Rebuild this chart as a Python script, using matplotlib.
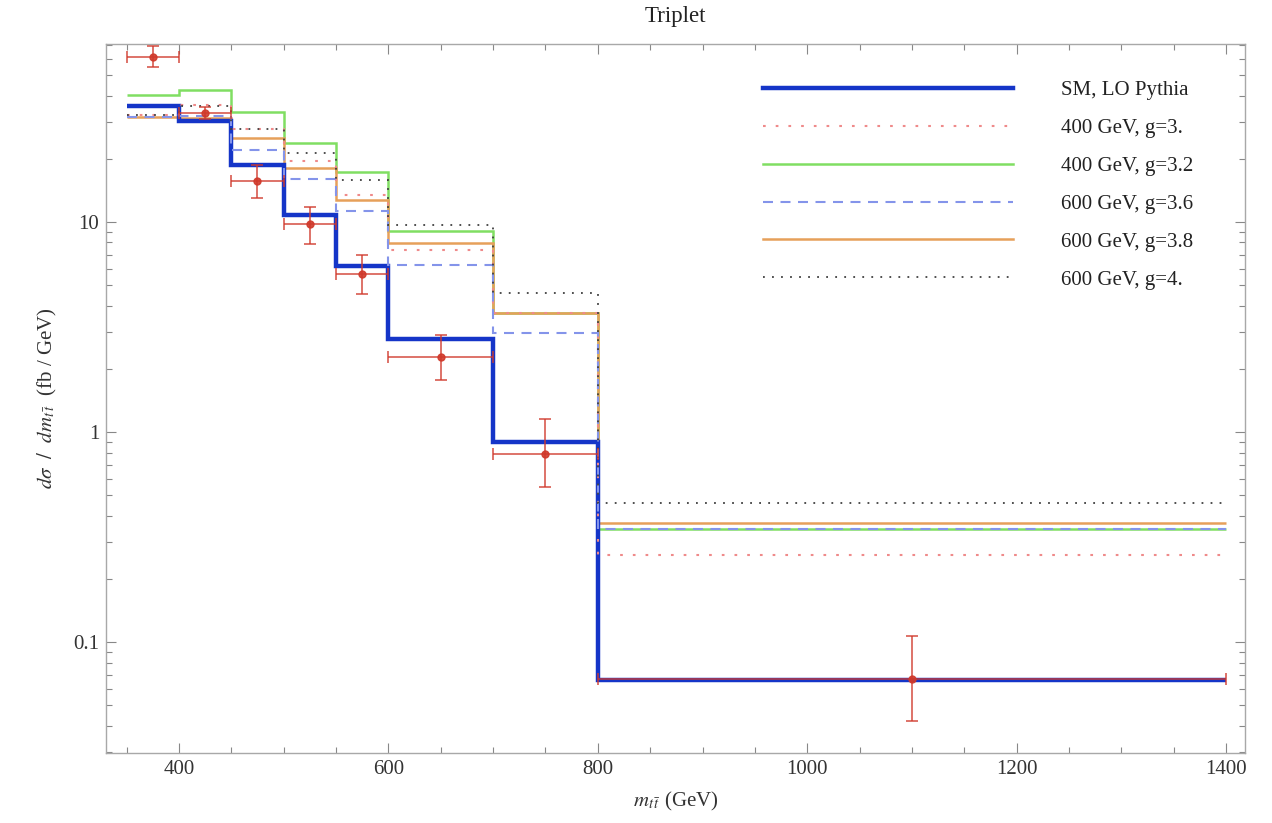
import matplotlib
matplotlib.use("Agg")
import matplotlib.pyplot as plt
from matplotlib.lines import Line2D
from matplotlib.ticker import FixedLocator, FixedFormatter, LogLocator, NullFormatter, MultipleLocator

# ---------------- data ----------------
bin_edges = [350, 400, 450, 500, 550, 600, 700, 800, 1400]

sm_lo_pythia = [35.8, 30.2, 18.7, 10.8, 6.2, 2.78, 0.90, 0.066]
m400_g30 = [32.5, 36.0, 27.7, 19.6, 13.4, 7.36, 3.70, 0.26]
m400_g32 = [40.2, 42.7, 33.5, 23.9, 17.4, 9.05, 3.70, 0.345]
m600_g36 = [31.8, 32.0, 22.0, 16.0, 11.3, 6.25, 2.97, 0.345]
m600_g38 = [31.6, 31.4, 25.0, 18.0, 12.7, 7.95, 3.69, 0.37]
m600_g40 = [32.5, 35.5, 27.7, 21.3, 15.9, 9.70, 4.60, 0.46]

data_x = [375, 425, 475, 525, 575, 650, 750, 1100]
data_xerr = [25, 25, 25, 25, 25, 50, 50, 300]
data_y = [61.2, 33.0, 15.6, 9.77, 5.63, 2.28, 0.79, 0.067]
data_ylow = [54.5, 31.0, 13.0, 7.9, 4.54, 1.77, 0.55, 0.042]
data_yhigh = [69.0, 35.2, 18.7, 11.8, 6.96, 2.90, 1.15, 0.107]

series_labels = ["SM, LO Pythia", "400 GeV, g=3.", "400 GeV, g=3.2",
                 "600 GeV, g=3.6", "600 GeV, g=3.8", "600 GeV, g=4."]

xticks = [400, 600, 800, 1000, 1200, 1400]
yticks = [0.1, 1, 10]
ytick_labels = ["0.1", "1", "10"]

# ---------------- style ----------------
plt.rcParams['font.family'] = ['Liberation Serif', 'DejaVu Serif']
plt.rcParams['mathtext.fontset'] = 'stix'

fig = plt.figure(figsize=(12.72, 8.23), dpi=100)
ax = fig.add_axes([106/1272, 1-753/823, (1245-106)/1272, (753-44)/823])

styles = [
    dict(color='#1535c8', lw=3.2, ls='-'),
    dict(color='#ef8a8a', lw=1.5, ls=(0, (1.3, 4.8))),
    dict(color='#80de62', lw=1.8, ls='-'),
    dict(color='#8494ea', lw=1.5, ls=(0, (4.8, 3.6))),
    dict(color='#e6a05a', lw=1.8, ls='-'),
    dict(color='#404040', lw=1.3, ls=(0, (1.0, 4.0))),
]
series = [sm_lo_pythia, m400_g30, m400_g32, m600_g36, m600_g38, m600_g40]
zorders = [3, 4, 2.5, 4.2, 2.6, 4.4]

for vals, st, z in zip(series, styles, zorders):
    ax.stairs(vals, bin_edges, baseline=None, color=st['color'],
              linewidth=st['lw'], linestyle=st['ls'], zorder=z)

yerr = [[y - lo for y, lo in zip(data_y, data_ylow)],
        [hi - y for y, hi in zip(data_y, data_yhigh)]]
ax.errorbar(data_x, data_y, xerr=data_xerr, yerr=yerr, fmt='o',
            color='#d0392b', ms=5, elinewidth=1.1, capsize=4, capthick=1.1,
            alpha=0.9, zorder=6)

ax.set_yscale('log')
ax.set_xlim(330.4, 1418)
ax.set_ylim(0.0297, 70.4)

ax.xaxis.set_major_locator(FixedLocator(xticks))
ax.xaxis.set_minor_locator(MultipleLocator(50))
ax.yaxis.set_major_locator(FixedLocator(yticks))
ax.yaxis.set_major_formatter(FixedFormatter(ytick_labels))
ax.yaxis.set_minor_locator(LogLocator(base=10, subs=range(2, 10)))
ax.yaxis.set_minor_formatter(NullFormatter())

ax.tick_params(which='both', direction='in', top=True, right=True,
               color='#888888', labelsize=15, labelcolor='#333333', width=0.8)
ax.tick_params(which='major', length=7, pad=5)
ax.tick_params(which='minor', length=4)
for sp in ax.spines.values():
    sp.set_color('#a8a8a8')
    sp.set_linewidth(1.0)

ax.set_title("Triplet", fontsize=16.5, color='#222222', pad=16)
ax.set_xlabel(r"$m_{t\,\bar{t}}$ (GeV)", fontsize=15, color='#333333', labelpad=8)
ax.set_ylabel(r"$d\sigma\ \ /\ \ dm_{t\,\bar{t}}$  (fb / GeV)", fontsize=15,
              color='#333333', labelpad=10)

handles = [Line2D([], [], color=st['color'], lw=st['lw'], ls=st['ls']) for st in styles]
leg = ax.legend(handles, series_labels, loc='upper left',
                bbox_to_anchor=(0.560, 0.975), frameon=False, fontsize=15,
                handlelength=12, handletextpad=2.3, labelspacing=0.88,
                labelcolor='#222222')

fig.savefig("out.png", dpi=100)
